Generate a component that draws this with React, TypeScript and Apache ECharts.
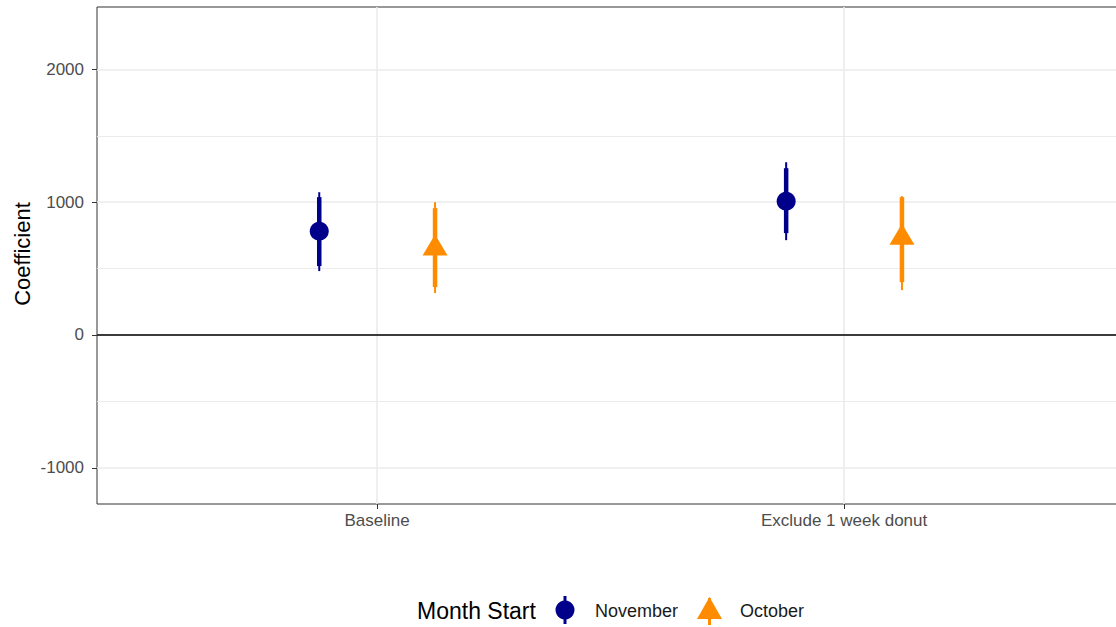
import React, { useEffect, useRef } from 'react';
import * as echarts from 'echarts';

const categories = ['Baseline', 'Exclude 1 week donut'];
const groupNames = ['November', 'October'];
const groupColors = ['#00008B', '#FF8C00'];

const novEst = [782, 1008];
const novLow95 = [481, 714];
const novLow90 = [519, 767];
const novHigh90 = [1038, 1256];
const novHigh95 = [1075, 1301];

const octEst = [662, 744];
const octLow95 = [316, 338];
const octLow90 = [361, 398];
const octHigh90 = [955, 1038];
const octHigh95 = [1000, 1045];

const yTicks = [-1000, 0, 1000, 2000];
const yMinor = [-500, 500, 1500];
const dodge = 0.124;

const FONT = '"Liberation Sans", Arial, Helvetica, sans-serif';

function buildData(off: number, low95: number[], low90: number[], est: number[], high90: number[], high95: number[]) {
  return categories.map((_, i) => [i + off, low95[i], low90[i], est[i], high90[i], high95[i]]);
}

function makeRender(color: string, shape: 'circle' | 'triangle') {
  return (params: any, api: any) => {
    const x = api.value(0);
    const pLL = api.coord([x, api.value(1)]);
    const pL = api.coord([x, api.value(2)]);
    const pE = api.coord([x, api.value(3)]);
    const pU = api.coord([x, api.value(4)]);
    const pUU = api.coord([x, api.value(5)]);
    const cx = pE[0];
    const cy = pE[1];
    const symbol =
      shape === 'circle'
        ? { type: 'circle', shape: { cx, cy, r: 9.5 }, style: { fill: color } }
        : {
            type: 'polygon',
            shape: { points: [[cx, cy - 12.5], [cx - 12.5, cy + 8.5], [cx + 12.5, cy + 8.5]] },
            style: { fill: color },
          };
    return {
      type: 'group',
      children: [
        { type: 'line', shape: { x1: cx, y1: pLL[1], x2: cx, y2: pUU[1] }, style: { stroke: color, lineWidth: 2 } },
        { type: 'line', shape: { x1: cx, y1: pL[1], x2: cx, y2: pU[1] }, style: { stroke: color, lineWidth: 4.5 } },
        symbol,
      ],
    };
  };
}

export default function App() {
  const ref = useRef<HTMLDivElement>(null);
  useEffect(() => {
    document.body.style.margin = '0';
    const chart = echarts.init(ref.current!, null, { renderer: 'svg' });
    const gridLines = [
      ...yTicks.map((v) => ({ yAxis: v, lineStyle: { color: '#EBEBEB', width: 1.6, type: 'solid' } })),
      ...yMinor.map((v) => ({ yAxis: v, lineStyle: { color: '#EBEBEB', width: 1, type: 'solid' } })),
      ...categories.map((_, i) => ({ xAxis: i, lineStyle: { color: '#EBEBEB', width: 1.6, type: 'solid' } })),
    ];
    chart.setOption({
      animation: false,
      backgroundColor: '#ffffff',
      grid: {
        left: 97,
        width: 1030,
        top: 7,
        bottom: 123,
        outerBoundsMode: 'none',
        containLabel: false,
        show: true,
        borderColor: '#333333',
        borderWidth: 1,
        backgroundColor: 'transparent',
      },
      xAxis: {
        type: 'value',
        min: -0.6,
        max: 1.606,
        axisLine: { show: false, onZero: false },
        splitLine: { show: false },
        axisTick: { show: true, customValues: [0, 1], length: 5, lineStyle: { color: '#333333', width: 1 } },
        axisLabel: {
          customValues: [0, 1],
          formatter: (v: number) => categories[Math.round(v)] ?? '',
          color: '#4D4D4D',
          fontSize: 17,
          fontFamily: FONT,
          margin: 8,
        },
      },
      yAxis: {
        type: 'value',
        min: -1273,
        max: 2470,
        axisLine: { show: false, onZero: false },
        splitLine: { show: false },
        axisTick: { show: true, customValues: yTicks, length: 5, lineStyle: { color: '#333333', width: 1 } },
        axisLabel: {
          customValues: yTicks,
          formatter: (v: number) => String(v),
          color: '#4D4D4D',
          fontSize: 17,
          fontFamily: FONT,
          margin: 13,
        },
      },
      series: [
        {
          type: 'line',
          data: [],
          silent: true,
          z: 0,
          markLine: {
            silent: true,
            z: 0,
            symbol: 'none',
            label: { show: false },
            data: [
              ...gridLines,
              { yAxis: 0, lineStyle: { color: '#000000', width: 1.6, type: 'solid' } },
            ],
          },
        },
        {
          type: 'custom',
          name: groupNames[0],
          z: 6,
          data: buildData(-dodge, novLow95, novLow90, novEst, novHigh90, novHigh95),
          encode: { x: 0, y: [1, 2, 3, 4, 5] },
          renderItem: makeRender(groupColors[0], 'circle'),
        },
        {
          type: 'custom',
          name: groupNames[1],
          z: 6,
          data: buildData(dodge, octLow95, octLow90, octEst, octHigh90, octHigh95),
          encode: { x: 0, y: [1, 2, 3, 4, 5] },
          renderItem: makeRender(groupColors[1], 'triangle'),
        },
      ],
      graphic: [
        {
          type: 'text',
          x: 22,
          y: 254,
          rotation: Math.PI / 2,
          style: { text: 'Coefficient', fontSize: 22, fontFamily: FONT, fill: '#000000', align: 'center', verticalAlign: 'middle' },
        },
        {
          type: 'text',
          x: 417,
          y: 611,
          style: { text: 'Month Start', fontSize: 23, fontFamily: FONT, fill: '#000000', align: 'left', verticalAlign: 'middle' },
        },
        { type: 'line', shape: { x1: 565, y1: 596, x2: 565, y2: 624 }, style: { stroke: groupColors[0], lineWidth: 3 } },
        { type: 'circle', shape: { cx: 565, cy: 610, r: 9.5 }, style: { fill: groupColors[0] } },
        {
          type: 'text',
          x: 595,
          y: 611,
          style: { text: groupNames[0], fontSize: 18, fontFamily: FONT, fill: '#1a1a1a', align: 'left', verticalAlign: 'middle' },
        },
        { type: 'line', shape: { x1: 709.5, y1: 598, x2: 709.5, y2: 625 }, style: { stroke: groupColors[1], lineWidth: 3 } },
        {
          type: 'polygon',
          shape: { points: [[709.5, 597], [697, 619], [722, 619]] },
          style: { fill: groupColors[1] },
        },
        {
          type: 'text',
          x: 740,
          y: 611,
          style: { text: groupNames[1], fontSize: 18, fontFamily: FONT, fill: '#1a1a1a', align: 'left', verticalAlign: 'middle' },
        },
      ],
    });
    return () => chart.dispose();
  }, []);
  return <div ref={ref} style={{ width: 1116, height: 627, position: 'absolute', left: 0, top: 0 }} />;
}
